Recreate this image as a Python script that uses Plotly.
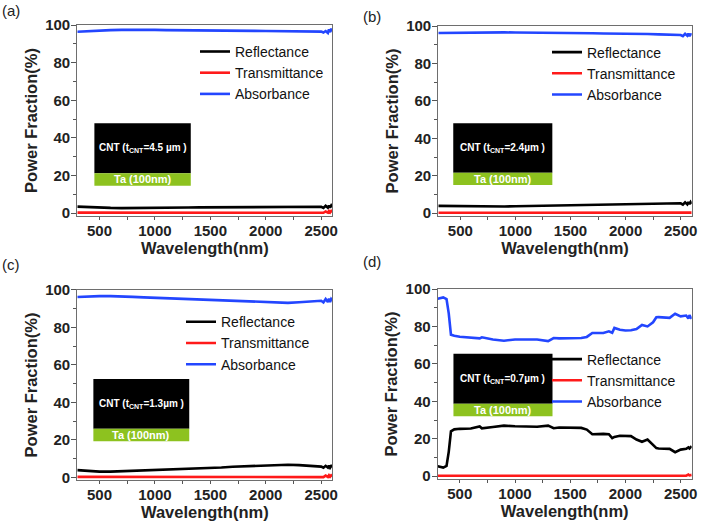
import plotly.graph_objects as go

# ---------------- data ----------------
wl_a = [300, 400, 500, 600, 700, 800, 900, 1000, 1100, 1200, 1300, 1400, 1500, 1600, 1700, 1800,
        1900, 2000, 2100, 2200, 2300, 2400, 2450, 2500, 2520, 2540, 2560, 2570, 2580, 2590, 2600]
refl_a = [3.5, 3.2, 2.9, 2.8, 2.7, 2.7, 2.9, 3.0, 3.0, 3.0, 3.0, 3.1, 3.1, 3.1, 3.1, 3.2,
          3.2, 3.2, 3.2, 3.3, 3.3, 3.3, 3.4, 3.4, 2.8, 3.9, 2.9, 4.0, 3.0, 4.1, 3.2]
trans_a = [0.3, 0.3, 0.3, 0.3, 0.3, 0.3, 0.3, 0.3, 0.3, 0.3, 0.3, 0.3, 0.3, 0.3, 0.3, 0.3,
           0.3, 0.3, 0.3, 0.3, 0.3, 0.4, 0.4, 0.4, 0.2, 0.9, 0.3, 1.1, 0.4, 1.2, 0.6]
abs_a = [96.4, 96.8, 97.1, 97.3, 97.4, 97.5, 97.4, 97.4, 97.3, 97.3, 97.2, 97.2, 97.1, 97.1, 97.0, 96.9,
         96.9, 96.8, 96.8, 96.7, 96.6, 96.5, 96.4, 96.5, 96.0, 96.8, 95.8, 97.6, 96.2, 98.0, 96.6]

wl_b = [300, 400, 500, 600, 700, 800, 900, 1000, 1100, 1200, 1300, 1400, 1500, 1600, 1700, 1800,
        1900, 2000, 2100, 2200, 2300, 2400, 2450, 2500, 2520, 2540, 2560, 2570, 2580, 2590, 2600]
refl_b = [3.9, 3.8, 3.7, 3.6, 3.5, 3.5, 3.6, 3.7, 3.8, 3.9, 4.0, 4.1, 4.2, 4.3, 4.5, 4.6,
          4.8, 4.9, 5.0, 5.0, 5.1, 5.2, 5.2, 5.3, 4.6, 5.8, 4.7, 6.0, 4.8, 5.9, 5.0]
trans_b = [0.2, 0.2, 0.2, 0.2, 0.2, 0.2, 0.2, 0.2, 0.2, 0.2, 0.2, 0.2, 0.2, 0.2, 0.2, 0.2,
           0.2, 0.2, 0.2, 0.2, 0.2, 0.2, 0.2, 0.2, 0.1, 0.4, 0.2, 0.5, 0.2, 0.5, 0.3]
abs_b = [96.3, 96.4, 96.5, 96.6, 96.6, 96.6, 96.6, 96.5, 96.5, 96.4, 96.4, 96.3, 96.3, 96.2, 96.1, 96.0,
         96.0, 95.9, 95.8, 95.7, 95.5, 95.4, 95.3, 95.2, 94.6, 95.8, 94.8, 96.0, 94.5, 95.9, 95.0]

wl_c = [300, 400, 500, 600, 700, 800, 900, 1000, 1100, 1200, 1300, 1400, 1500, 1600, 1700, 1800,
        1900, 2000, 2100, 2200, 2300, 2400, 2450, 2500, 2520, 2540, 2560, 2570, 2580, 2590, 2600]
refl_c = [3.9, 3.4, 3.1, 3.1, 3.3, 3.6, 3.9, 4.1, 4.3, 4.5, 4.6, 4.8, 5.0, 5.3, 5.7, 6.0,
          6.3, 6.5, 6.7, 6.8, 6.6, 6.2, 6.0, 5.8, 5.2, 6.2, 5.3, 6.3, 5.2, 6.1, 5.5]
trans_c = [0.3, 0.3, 0.3, 0.3, 0.3, 0.3, 0.3, 0.3, 0.3, 0.3, 0.3, 0.3, 0.3, 0.3, 0.3, 0.3,
           0.3, 0.3, 0.3, 0.3, 0.3, 0.4, 0.4, 0.5, 0.2, 1.0, 0.3, 1.2, 0.4, 1.1, 0.6]
abs_c = [96.1, 96.5, 96.6, 96.6, 96.5, 96.2, 95.9, 95.7, 95.5, 95.3, 95.1, 94.9, 94.6, 94.4, 94.1, 93.8,
         93.6, 93.4, 93.2, 93.0, 93.3, 93.6, 93.9, 94.1, 93.2, 95.0, 93.4, 95.2, 93.5, 95.0, 94.3]

wl_d = [300, 350, 380, 400, 420, 450, 500, 600, 680, 700, 800, 900, 1000, 1100, 1200, 1300, 1350,
        1400, 1500, 1600, 1650, 1700, 1800, 1850, 1880, 1900, 1950, 2000, 2050, 2100, 2150, 2200,
        2250, 2280, 2300, 2400, 2450, 2500, 2550, 2570, 2580, 2600]
refl_d = [5.3, 4.6, 5.5, 13.0, 24.0, 25.0, 25.3, 25.5, 26.6, 25.6, 26.3, 27.0, 26.7, 26.5, 26.4, 27.0, 25.6,
          26.0, 25.9, 25.8, 24.9, 22.4, 22.6, 22.4, 20.3, 21.0, 21.6, 21.7, 21.4, 19.6, 18.4, 19.6,
          17.0, 15.0, 14.8, 14.6, 12.8, 14.2, 14.6, 15.4, 14.8, 16.0]
trans_d = [0.2, 0.2, 0.2, 0.2, 0.2, 0.2, 0.2, 0.2, 0.2, 0.2, 0.2, 0.2, 0.2, 0.2, 0.2, 0.2, 0.2,
           0.2, 0.2, 0.2, 0.2, 0.2, 0.2, 0.2, 0.2, 0.2, 0.2, 0.2, 0.2, 0.3, 0.3, 0.3,
           0.3, 0.3, 0.3, 0.4, 0.4, 0.5, 0.3, 0.9, 0.4, 0.7]
abs_d = [94.8, 95.5, 94.6, 87.0, 75.6, 75.0, 74.5, 73.8, 73.6, 74.2, 73.0, 72.4, 73.0, 73.0, 73.0, 72.2, 73.8,
         73.6, 73.6, 73.8, 74.4, 76.5, 76.5, 77.4, 76.6, 79.2, 78.2, 77.8, 78.0, 78.6, 80.8, 80.0,
         82.2, 84.9, 85.0, 84.6, 86.8, 85.4, 85.8, 84.2, 86.0, 84.0]

thickness_labels = ["4.5 µm ", "2.4µm ", "1.3µm ", "0.7µm "]
panel_labels = ["(a)", "(b)", "(c)", "(d)"]
series_names = ["Reflectance", "Transmittance", "Absorbance"]
x_ticks = [500, 1000, 1500, 2000, 2500]
y_ticks = [0, 20, 40, 60, 80, 100]

panels = [
    (wl_a, refl_a, trans_a, abs_a),
    (wl_b, refl_b, trans_b, abs_b),
    (wl_c, refl_c, trans_c, abs_c),
    (wl_d, refl_d, trans_d, abs_d),
]

# ---------------- layout geometry ----------------
W, H = 701, 526
px_boxes = [  # left, right, top, bottom in pixels
    (77.3, 332.3, 25, 216),
    (438.3, 691.7, 26, 216),
    (77.3, 332.3, 289.7, 480.3),
    (437.7, 691.7, 289, 479),
]
inset_boxes = [  # x0, x1, y_black_top, y_black_bottom(=green top), y_green_bottom as fractions of the plot box
    (0.067, 0.445, 0.485, 0.224, 0.159),
    (0.059, 0.450, 0.488, 0.228, 0.163),
    (0.063, 0.439, 0.531, 0.271, 0.205),
    (0.062, 0.452, 0.659, 0.396, 0.330),
]
legend_pos = [(233, 72.7), (585, 73.3), (219, 343), (585, 380.3)]  # text-left x, middle-row centre y (px)
label_pos = [(0, 0), (361, 6), (0, 254), (361, 251)]

colors = ["#000000", "#ff1a1a", "#2346ff"]
green = "#8dc21f"
font = "Liberation Sans, Arial, sans-serif"

fig = go.Figure()
layout = dict(width=W, height=H, autosize=False,
              margin=dict(l=0, r=0, t=0, b=0, autoexpand=False),
              paper_bgcolor="white", plot_bgcolor="white", shapes=[], annotations=[])

for i, (wl, r, t, a) in enumerate(panels):
    n = "" if i == 0 else str(i + 1)
    lg = "legend" if i == 0 else "legend" + str(i + 1)
    for name, ys, c in zip(series_names, [r, t, a], colors):
        fig.add_trace(go.Scatter(x=wl, y=ys, mode="lines", name=name,
                                 line=dict(color=c, width=2.6),
                                 xaxis="x" + n, yaxis="y" + n, legend=lg))
    L, R, T, B = px_boxes[i]
    tfont = dict(family=font, size=15, color="#222", weight="bold")
    ttl_font = dict(family=font, size=16.5, color="#222", weight="bold")
    axis_common = dict(showgrid=False, zeroline=False, showline=True, mirror=True,
                       linecolor="#6e6e6e", linewidth=1.2, ticks="outside",
                       tickcolor="#555555", tickfont=tfont)
    layout["xaxis" + n] = dict(axis_common, domain=[L / W, R / W], range=[300, 2600],
                               tickvals=x_ticks, anchor="y" + n, ticklen=3, ticklabelstandoff=-2,
                               title=dict(text="Wavelength(nm)", font=ttl_font, standoff=1),
                               minor=dict(dtick=250, ticks="outside", ticklen=3, tickcolor="#555555"))
    layout["yaxis" + n] = dict(axis_common, domain=[1 - B / H, 1 - T / H], range=[-1.5, 100],
                               tickvals=y_ticks, anchor="x" + n, ticklen=5, ticklabelstandoff=-2,
                               title=dict(text="Power Fraction(%)", font=ttl_font, standoff=3),
                               minor=dict(dtick=10, ticks="outside", ticklen=3, tickcolor="#555555"))
    lx, ly = legend_pos[i]
    layout[lg] = dict(x=(lx - 38) / W, y=1 - (ly - 36.8) / H, xanchor="left", yanchor="top",
                      bgcolor="rgba(0,0,0,0)", borderwidth=0, itemwidth=30,
                      font=dict(family=font, size=14, color="#111"), tracegroupgap=0)
    # inset sketch of the sample stack, placed relative to the panel box (paper coordinates)
    x0, x1, yt, ym, yb = inset_boxes[i]
    px0, px1 = (L + x0 * (R - L)) / W, (L + x1 * (R - L)) / W
    pyb0 = 1 - B / H
    ph = (B - T) / H
    pyt, pym, pyb = pyb0 + yt * ph, pyb0 + ym * ph, pyb0 + yb * ph
    box_w = (x1 - x0) * (R - L)
    layout["shapes"].append(dict(type="rect", xref="paper", yref="paper", x0=px0, x1=px1, y0=pym, y1=pyt,
                                 fillcolor="black", line=dict(width=0), layer="above"))
    layout["shapes"].append(dict(type="rect", xref="paper", yref="paper", x0=px0, x1=px1, y0=pyb, y1=pym,
                                 fillcolor=green, line=dict(width=0), layer="above"))
    layout["annotations"].append(dict(xref="paper", yref="paper", x=(px0 + px1) / 2, y=(pyt + pym) / 2,
                                      xanchor="center", yanchor="middle", align="center",
                                      text="CNT (t<sub>CNT</sub>=" + thickness_labels[i] + ")",
                                      showarrow=False,
                                      font=dict(family=font, size=10, color="white", weight="bold")))
    layout["annotations"].append(dict(xref="paper", yref="paper", x=(px0 + px1) / 2, y=(pym + pyb) / 2,
                                      xanchor="center", yanchor="middle", align="center",
                                      text="Ta (100nm)", showarrow=False,
                                      font=dict(family=font, size=11, color="white", weight="bold")))
    px_, py_ = label_pos[i]
    layout["annotations"].append(dict(xref="paper", yref="paper", x=px_ / W, y=1 - py_ / H,
                                      xanchor="left", yanchor="top", text=panel_labels[i],
                                      showarrow=False, font=dict(family=font, size=15, color="#222")))

fig.update_layout(**layout)
fig.write_html("out.html", config={"displayModeBar": False},
               post_script="document.body.style.margin='0px';")
